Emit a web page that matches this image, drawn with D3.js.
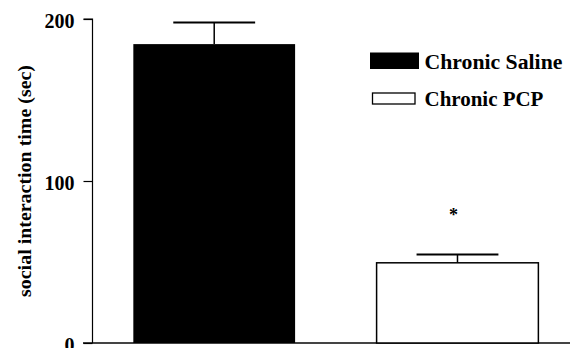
<!DOCTYPE html>
<html>
<head>
<meta charset="utf-8">
<script src="https://cdn.jsdelivr.net/npm/d3@7"></script>
<style>
  html, body { margin: 0; padding: 0; background: #fff; }
  svg text { font-family: "Liberation Serif", "Times New Roman", serif; font-weight: bold; fill: #000; }
</style>
</head>
<body>
<svg id="chart" width="570" height="348"></svg>
<script>
const categories = ["Chronic Saline", "Chronic PCP"];
const means = [184.5, 49.5];
const sems = [13.3, 5.2];
const fills = ["#000000", "#ffffff"];
const yTicks = [0, 100, 200];
const yLabel = "social interaction time (sec)";
const sigMarks = ["", "*"];

const svg = d3.select("#chart");

const y = d3.scaleLinear().domain([0, 200]).range([343, 19]);
const x = d3.scaleBand().domain(categories).range([92.7, 579])
  .paddingInner(0.335).paddingOuter(0.167);

function fit(sel, target) {
  const len = sel.node().getComputedTextLength();
  return target / len;
}

// baseline
svg.append("line")
  .attr("x1", 83).attr("x2", 570)
  .attr("y1", y(0)).attr("y2", y(0))
  .attr("stroke", "#444").attr("stroke-width", 2);

// y axis
const yAxis = d3.axisLeft(y).tickValues(yTicks).tickSize(9).tickPadding(9).tickFormat(d3.format("d"));
const ga = svg.append("g").attr("transform", "translate(92.5,0)").call(yAxis);
ga.select(".domain").attr("stroke", "#000").attr("stroke-width", 1.2).attr("d", `M-9,${y(200)}H0V${y(0)}`);
ga.selectAll(".tick line").attr("stroke", "#000").attr("stroke-width", 1.2);
ga.selectAll(".tick text")
  .attr("font-family", "'Liberation Serif', 'Times New Roman', serif")
  .attr("font-weight", "bold").attr("font-size", 20).attr("fill", "#000")
  .attr("dy", "0.4em");

// y label
const yl = svg.append("text")
  .attr("text-anchor", "middle")
  .attr("font-size", 19)
  .text(yLabel);
const ys = fit(yl, 232);
yl.attr("transform", `translate(31,181) rotate(-90) scale(${ys},1)`);

// error bars
const capHalf = x.bandwidth() * 0.253;
categories.forEach((c, i) => {
  const cx = x(c) + x.bandwidth() / 2;
  svg.append("line").attr("x1", cx).attr("x2", cx)
    .attr("y1", y(means[i])).attr("y2", y(means[i] + sems[i]))
    .attr("stroke", "#000").attr("stroke-width", 1.5);
  svg.append("line").attr("x1", cx - capHalf).attr("x2", cx + capHalf)
    .attr("y1", y(means[i] + sems[i])).attr("y2", y(means[i] + sems[i]))
    .attr("stroke", "#000").attr("stroke-width", 2);
});

// bars
svg.selectAll("rect.bar").data(categories).enter().append("rect")
  .attr("class", "bar")
  .attr("x", d => x(d))
  .attr("y", (d, i) => y(means[i]))
  .attr("width", x.bandwidth())
  .attr("height", (d, i) => y(0) - y(means[i]))
  .attr("fill", (d, i) => fills[i])
  .attr("stroke", (d, i) => i === 1 ? "#000" : "none")
  .attr("stroke-width", 1.5);

// significance mark
categories.forEach((c, i) => {
  if (!sigMarks[i]) return;
  svg.append("text")
    .attr("x", x(c) + x.bandwidth() / 2 - 4)
    .attr("y", y(means[i] + sems[i]) - 33)
    .attr("text-anchor", "middle")
    .attr("font-weight", "bold")
    .attr("font-size", 18)
    .text(sigMarks[i]);
});

// legend
const legend = [
  { rx: 370, ry: 52.5, rw: 49, rh: 16.5, tx: 424.5, ty: 69, tl: 138 },
  { rx: 372.5, ry: 93, rw: 42.5, rh: 11, tx: 424.5, ty: 106, tl: 119 }
];
categories.forEach((c, i) => {
  const L = legend[i];
  svg.append("rect").attr("x", L.rx).attr("y", L.ry).attr("width", L.rw).attr("height", L.rh)
    .attr("fill", fills[i]).attr("stroke", i === 1 ? "#000" : "none").attr("stroke-width", 1.3);
  const t = svg.append("text").attr("font-size", 20).text(c);
  const s = fit(t, L.tl);
  t.attr("transform", `translate(${L.tx},${L.ty}) scale(${s},1)`);
});
</script>
</body>
</html>
